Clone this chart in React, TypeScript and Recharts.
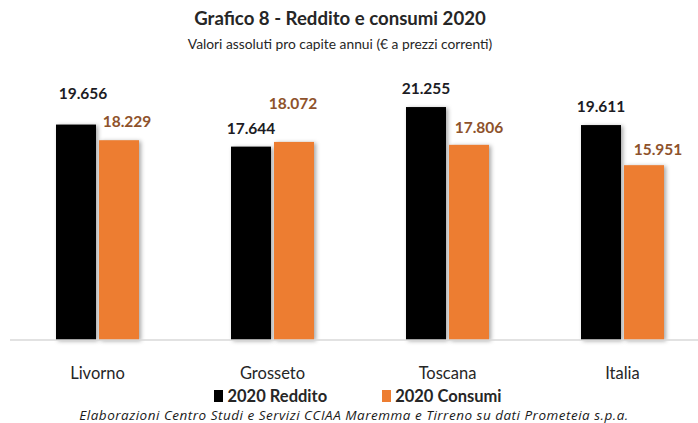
import React from 'react';
import { Bar, BarChart, LabelList, XAxis, YAxis } from 'recharts';

const areas = ['Livorno', 'Grosseto', 'Toscana', 'Italia'];
const reddito = [19656, 17644, 21255, 19611];
const consumi = [18229, 18072, 17806, 15951];

// hand-placed label nudges, like the original workbook (dx, px above bar top)
const redditoNudge = [[7, 32], [0, 19], [0, 19], [0, 19]];
const consumiNudge = [[8, 19], [-1, 39], [10, 18], [14, 16]];

const chartData = areas.map((area, i) => ({ area, reddito: reddito[i], consumi: consumi[i] }));

const FONT = 'Lato, "Open Sans", sans-serif';

const fmt = (v: number) => String(v).replace(/\B(?=(\d{3})+(?!\d))/g, '.');

const makeLabel = (nudge: number[][], color: string) => (props: any) => {
  const { x, y, width, value, index } = props;
  const [dx, up] = nudge[index] || [0, 18];
  return (
    <text
      x={Number(x) + Number(width) / 2 + dx}
      y={Number(y) - up}
      textAnchor="middle"
      dominantBaseline="central"
      fill={color}
      fontFamily={FONT}
      fontWeight={700}
      fontSize={15.5}
    >
      {fmt(value)}
    </text>
  );
};

const ShadowBar = (props: any) => {
  const { x, y, width, height, fill } = props;
  return (
    <rect
      x={x}
      y={y}
      width={width}
      height={height}
      fill={fill}
      style={{ filter: 'drop-shadow(2px 1px 2px rgba(0,0,0,0.35))' }}
    />
  );
};

const AreaTick = (props: any) => {
  const { x, y, payload } = props;
  return (
    <text x={x} y={Number(y) + 37} textAnchor="middle" fill="#262626" fontFamily={FONT} fontSize={16.5}>
      {payload.value}
    </text>
  );
};

const LegendBox = () => (
  <div style={{ display: 'flex', justifyContent: 'center', fontFamily: FONT, fontWeight: 700, fontSize: 16.5, color: '#262626', lineHeight: '20px' }}>
    <span style={{ display: 'flex', alignItems: 'center', marginRight: 55 }}>
      <span style={{ width: 9, height: 12, background: '#000000', marginRight: 4 }} />
      2020 Reddito
    </span>
    <span style={{ display: 'flex', alignItems: 'center' }}>
      <span style={{ width: 9, height: 12, background: '#ED7D31', marginRight: 4 }} />
      2020 Consumi
    </span>
  </div>
);

export default function App() {
  return (
    <div style={{ position: 'absolute', left: 0, top: 0, width: 698, height: 423, overflow: 'hidden', background: '#fff' }}>
      <div style={{ position: 'absolute', top: 5, left: 0, width: 680, textAlign: 'center', fontFamily: FONT, color: '#262626' }}>
        <div style={{ fontSize: 18.6, fontWeight: 700, lineHeight: '26px' }}>Grafico 8 - Reddito e consumi 2020</div>
        <div style={{ fontSize: 13.8, lineHeight: '18px', marginTop: 4 }}>Valori assoluti pro capite annui (€ a prezzi correnti)</div>
      </div>
      <BarChart
        width={710}
        height={423}
        data={chartData}
        margin={{ top: 66, right: 0, left: 10, bottom: 53 }}
        barGap={3}
        barSize={40}
      >
        <XAxis
          dataKey="area"
          height={30}
          tickSize={0}
          tickLine={false}
          axisLine={{ stroke: '#d9d9d9', strokeWidth: 1.5 }}
          tick={<AreaTick />}
          interval={0}
        />
        <YAxis hide domain={[0, 25000]} />
        <Bar dataKey="reddito" name="2020 Reddito" fill="#000000" shape={<ShadowBar />} isAnimationActive={false}>
          <LabelList dataKey="reddito" content={makeLabel(redditoNudge, '#1c1c24')} />
        </Bar>
        <Bar dataKey="consumi" name="2020 Consumi" fill="#ED7D31" shape={<ShadowBar />} isAnimationActive={false}>
          <LabelList dataKey="consumi" content={makeLabel(consumiNudge, '#8E522B')} />
        </Bar>
      </BarChart>
      <div style={{ position: 'absolute', top: 386, left: 0, width: 716 }}>
        <LegendBox />
      </div>
      <div
        style={{
          position: 'absolute',
          top: 408,
          left: 0,
          width: 708,
          textAlign: 'center',
          fontFamily: '"Open Sans", sans-serif',
          fontStyle: 'italic',
          fontSize: 13.5,
          lineHeight: '15px',
          letterSpacing: 0.5,
          color: '#1a1a1a',
        }}
      >
        Elaborazioni Centro Studi e Servizi CCIAA Maremma e Tirreno su dati Prometeia s.p.a.
      </div>
    </div>
  );
}
